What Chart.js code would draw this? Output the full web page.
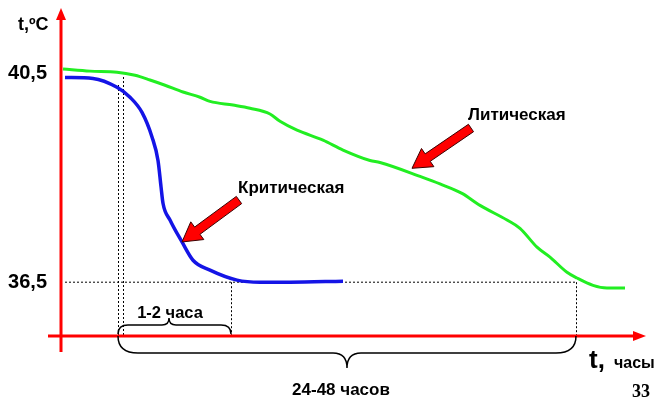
<!DOCTYPE html>
<html>
<head>
<meta charset="utf-8">
<script src="https://cdn.jsdelivr.net/npm/chart.js@4/dist/chart.umd.min.js"></script>
<style>
  html, body { margin: 0; padding: 0; background: #fff; }
  #wrap { position: relative; width: 657px; height: 398px; }
</style>
</head>
<body>
<div id="wrap"><canvas id="chart" width="657" height="398"></canvas></div>
<script>
// время в условных единицах, температура в °C (схема)
const lyticTime = [0.2, 2.9, 5.6, 7.4, 8.9, 10.4, 12.2, 13.9, 14.9, 17.2, 18.9, 20.9, 21.9, 23.6, 26.2, 28.2, 30.9, 31.9, 36.1, 37.9, 40.1, 41.9, 44.6, 45.9, 47.6, 48.9, 50.6, 51.6, 53.2, 54.6, 56.4];
const lyticTemp = [40.58, 40.54, 40.52, 40.46, 40.37, 40.27, 40.14, 40.04, 39.96, 39.89, 39.83, 39.72, 39.58, 39.41, 39.22, 39.03, 38.83, 38.79, 38.51, 38.38, 38.20, 37.97, 37.69, 37.53, 37.17, 36.98, 36.69, 36.58, 36.44, 36.39, 36.39];

const criticalTime = [0.4, 3.2, 5.6, 6.9, 8.1, 9.1, 9.7, 10.0, 10.2, 10.9, 12.1, 13.2, 14.9, 17.6, 19.9, 22.9, 28.2];
const criticalTemp = [40.42, 40.40, 40.23, 40.04, 39.75, 39.28, 38.83, 38.33, 38.01, 37.69, 37.27, 36.92, 36.73, 36.54, 36.50, 36.50, 36.52];

const yTicks = [36.5, 40.5];

// отметки на оси времени
const crisisStart = [5.7, 6.2];
const criticalEnd = 17.0;
const lyticEnd = 51.5;
const normalTemp = 36.5;

function toPoints(xs, ys) {
  return xs.map((x, i) => ({ x: x, y: ys[i] }));
}

function fatArrow(ctx, tx, ty, hx, hy) {
  const dx = hx - tx, dy = hy - ty;
  const len = Math.hypot(dx, dy);
  const ux = dx / len, uy = dy / len;
  const nx = -uy, ny = ux;
  const sw = 4.5, hw = 11, hl = 19;
  const bx = hx - ux * hl, by = hy - uy * hl;
  ctx.beginPath();
  ctx.moveTo(tx + nx * sw, ty + ny * sw);
  ctx.lineTo(bx + nx * sw, by + ny * sw);
  ctx.lineTo(bx + nx * hw, by + ny * hw);
  ctx.lineTo(hx, hy);
  ctx.lineTo(bx - nx * hw, by - ny * hw);
  ctx.lineTo(bx - nx * sw, by - ny * sw);
  ctx.lineTo(tx - nx * sw, ty - ny * sw);
  ctx.closePath();
  ctx.fillStyle = '#ff0000';
  ctx.fill();
  ctx.lineWidth = 1;
  ctx.strokeStyle = '#3a0000';
  ctx.stroke();
}

function brace(ctx, x1, x2, xm, yEnd, yLine, yTip, r, rm) {
  ctx.beginPath();
  ctx.moveTo(x1, yEnd);
  ctx.quadraticCurveTo(x1, yLine, x1 + r, yLine);
  ctx.lineTo(xm - rm, yLine);
  ctx.quadraticCurveTo(xm, yLine, xm, yTip);
  ctx.quadraticCurveTo(xm, yLine, xm + rm, yLine);
  ctx.lineTo(x2 - r, yLine);
  ctx.quadraticCurveTo(x2, yLine, x2, yEnd);
  ctx.lineWidth = 1.5;
  ctx.strokeStyle = '#000';
  ctx.stroke();
}

const schemePlugin = {
  id: 'scheme',
  beforeDatasetsDraw(chart) {
    const ctx = chart.ctx;
    const xs = chart.scales.x, ys = chart.scales.y;
    const x0 = xs.getPixelForValue(0);
    const y0 = ys.getPixelForValue(ys.min);
    const yN = ys.getPixelForValue(normalTemp);

    ctx.save();
    ctx.setLineDash([2, 2]);
    ctx.lineWidth = 1;
    ctx.strokeStyle = '#000';
    ctx.beginPath();
    ctx.moveTo(x0 + 4, yN);
    ctx.lineTo(xs.getPixelForValue(lyticEnd) + 1, yN);
    const tops = [85, 77];
    crisisStart.forEach((t, i) => {
      const px = Math.round(xs.getPixelForValue(t)) + 0.5;
      ctx.moveTo(px, tops[i]);
      ctx.lineTo(px, y0);
    });
    [criticalEnd, lyticEnd].forEach(t => {
      const px = Math.round(xs.getPixelForValue(t)) + 0.5;
      ctx.moveTo(px, yN);
      ctx.lineTo(px, y0);
    });
    ctx.stroke();
    ctx.restore();
  },
  afterDraw(chart) {
    const ctx = chart.ctx;
    const xs = chart.scales.x, ys = chart.scales.y;
    const x0 = xs.getPixelForValue(0);
    const y0 = ys.getPixelForValue(ys.min);

    ctx.save();
    // оси
    ctx.strokeStyle = '#ff0000';
    ctx.fillStyle = '#ff0000';
    ctx.lineWidth = 3;
    ctx.beginPath();
    ctx.moveTo(x0, y0 + 16);
    ctx.lineTo(x0, 18);
    ctx.moveTo(x0 - 13, y0);
    ctx.lineTo(635, y0);
    ctx.stroke();
    ctx.beginPath();
    ctx.moveTo(x0, 8);
    ctx.lineTo(x0 - 5, 20);
    ctx.lineTo(x0 + 5, 20);
    ctx.closePath();
    ctx.fill();
    ctx.beginPath();
    ctx.moveTo(646, y0);
    ctx.lineTo(633, y0 - 5);
    ctx.lineTo(633, y0 + 5);
    ctx.closePath();
    ctx.fill();

    // скобки
    const xa = xs.getPixelForValue(crisisStart[0]);
    const xb = xs.getPixelForValue(criticalEnd);
    const xc = xs.getPixelForValue(lyticEnd);
    brace(ctx, xa, xb, 169, y0 - 2, y0 - 11, y0 - 18, 10, 7);
    brace(ctx, xa, xc, (xa + xc) / 2, y0, y0 + 17, y0 + 32, 20, 14);

    // стрелки-указатели
    fatArrow(ctx, 239, 200, xs.getPixelForValue(12.1), ys.getPixelForValue(37.27));
    fatArrow(ctx, 471, 128, xs.getPixelForValue(35.1), ys.getPixelForValue(38.68));

    // подписи
    ctx.fillStyle = '#000';
    ctx.textBaseline = 'middle';
    ctx.textAlign = 'left';
    ctx.font = 'bold 18px "Liberation Sans", Arial, sans-serif';
    ctx.fillText('t,ºC', 18, 25);
    ctx.font = 'bold 17px "Liberation Sans", Arial, sans-serif';
    ctx.fillText('Критическая', 238, 188);
    ctx.fillText('Литическая', 468, 115);
    ctx.textAlign = 'center';
    ctx.font = 'bold 16.5px "Liberation Sans", Arial, sans-serif';
    ctx.fillText('1-2 часа', 170, 313);
    ctx.font = 'bold 17px "Liberation Sans", Arial, sans-serif';
    ctx.fillText('24-48 часов', 341, 390);
    ctx.textAlign = 'left';
    ctx.textBaseline = 'alphabetic';
    ctx.font = 'bold 26px "Liberation Sans", Arial, sans-serif';
    ctx.fillText('t,', 589, 368);
    ctx.font = 'bold 16px "Liberation Sans", Arial, sans-serif';
    ctx.fillText('часы', 614, 368);
    ctx.font = 'bold 18px "Liberation Serif", "Times New Roman", serif';
    ctx.fillText('33', 632, 397);
    ctx.restore();
  }
};

new Chart(document.getElementById('chart'), {
  type: 'line',
  data: {
    datasets: [
      {
        label: 'Литическая',
        data: toPoints(lyticTime, lyticTemp),
        borderColor: '#22ee22',
        borderWidth: 3,
        pointRadius: 0,
        cubicInterpolationMode: 'monotone',
        fill: false
      },
      {
        label: 'Критическая',
        data: toPoints(criticalTime, criticalTemp),
        borderColor: '#1414e6',
        borderWidth: 3.5,
        pointRadius: 0,
        cubicInterpolationMode: 'monotone',
        fill: false
      }
    ]
  },
  options: {
    responsive: false,
    animation: false,
    devicePixelRatio: 1,
    layout: { padding: { left: 0, top: 10, right: 12, bottom: 62 } },
    plugins: {
      legend: { display: false },
      tooltip: { enabled: false }
    },
    scales: {
      x: {
        type: 'linear',
        display: false,
        min: 0,
        max: 58.4
      },
      y: {
        type: 'linear',
        min: 35.47,
        max: 41.71,
        grid: { display: false, drawTicks: false },
        border: { display: false },
        afterFit(scale) {
          scale.width = 61;
          scale.paddingTop = 0;
          scale.paddingBottom = 0;
        },
        afterBuildTicks(scale) { scale.ticks = yTicks.map(v => ({ value: v })); },
        ticks: {
          padding: 14,
          color: '#000',
          font: { family: '"Liberation Sans", Arial, sans-serif', size: 20, weight: 'bold' },
          callback: v => v.toFixed(1).replace('.', ',')
        }
      }
    }
  },
  plugins: [schemePlugin]
});
</script>
</body>
</html>
